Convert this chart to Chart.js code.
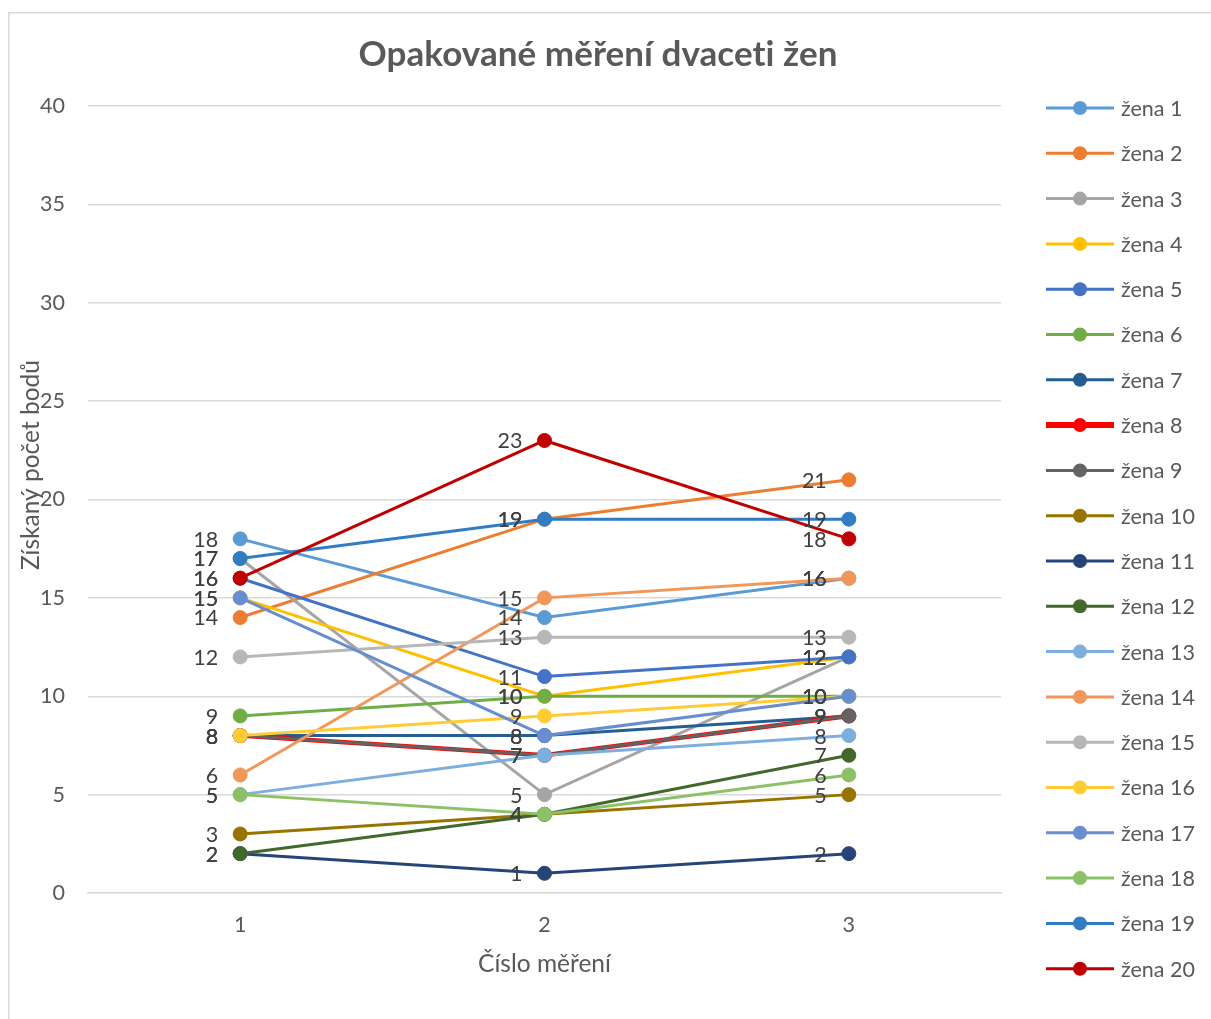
<!DOCTYPE html>
<html lang="cs">
<head>
<meta charset="utf-8">
<title>Opakované měření dvaceti žen</title>
<script src="https://cdn.jsdelivr.net/npm/chart.js@4/dist/chart.umd.min.js"></script>
<style>
  html, body { margin: 0; padding: 0; background: #ffffff; }
  #wrap { position: relative; width: 1211px; height: 1019px; }
</style>
</head>
<body>
<div id="wrap"><canvas id="chart" width="1211" height="1019"></canvas></div>
<script>
// Measurement rounds (x axis)
const categories = ['1', '2', '3'];

// Scores of each woman in rounds 1, 2, 3
const zena1  = [18, 14, 16];
const zena2  = [14, 19, 21];
const zena3  = [17, 5, 12];
const zena4  = [15, 10, 12];
const zena5  = [16, 11, 12];
const zena6  = [9, 10, 10];
const zena7  = [8, 8, 9];
const zena8  = [8, 7, 9];
const zena9  = [8, 7, 9];
const zena10 = [3, 4, 5];
const zena11 = [2, 1, 2];
const zena12 = [2, 4, 7];
const zena13 = [5, 7, 8];
const zena14 = [6, 15, 16];
const zena15 = [12, 13, 13];
const zena16 = [8, 9, 10];
const zena17 = [15, 8, 10];
const zena18 = [5, 4, 6];
const zena19 = [17, 19, 19];
const zena20 = [16, 23, 18];

const seriesNames = ['žena 1', 'žena 2', 'žena 3', 'žena 4', 'žena 5', 'žena 6', 'žena 7',
  'žena 8', 'žena 9', 'žena 10', 'žena 11', 'žena 12', 'žena 13', 'žena 14', 'žena 15',
  'žena 16', 'žena 17', 'žena 18', 'žena 19', 'žena 20'];
const seriesValues = [zena1, zena2, zena3, zena4, zena5, zena6, zena7, zena8, zena9, zena10,
  zena11, zena12, zena13, zena14, zena15, zena16, zena17, zena18, zena19, zena20];
const seriesColors = ['#5B9BD5', '#ED7D31', '#A5A5A5', '#FFC000', '#4472C4', '#70AD47', '#255E91',
  '#FF0000', '#636363', '#997300', '#264478', '#43682B', '#7CAFDD', '#F1975A', '#B7B7B7',
  '#FFCD33', '#698ED0', '#8CC168', '#327DC2', '#C00000'];

// Y axis ticks
const yMin = 0, yMax = 40, yStep = 5;

const FONT = 'Lato, "Open Sans", sans-serif';
const TEXT = '#595959';

const datasets = seriesNames.map((name, i) => ({
  label: name,
  data: seriesValues[i],
  borderColor: seriesColors[i],
  backgroundColor: seriesColors[i],
  pointBackgroundColor: seriesColors[i],
  pointBorderColor: seriesColors[i],
  borderWidth: i === 7 ? 4.5 : 3,
  pointRadius: 7,
  pointBorderWidth: 1,
  pointHoverRadius: 7,
  tension: 0,
  // later series are painted on top
  order: seriesNames.length - i
}));

// Outer frame, title and axis titles
const framePlugin = {
  id: 'frame',
  beforeDraw(chart) {
    const ctx = chart.ctx;
    ctx.save();
    ctx.fillStyle = '#ffffff';
    ctx.fillRect(0, 0, chart.width, chart.height);
    ctx.strokeStyle = '#d9d9d9';
    ctx.lineWidth = 1.5;
    ctx.strokeRect(8.75, 12.75, chart.width + 20, chart.height + 20);
    ctx.restore();
  },
  afterDraw(chart) {
    const ctx = chart.ctx;
    const area = chart.chartArea;
    ctx.save();
    ctx.fillStyle = TEXT;
    ctx.textAlign = 'center';
    ctx.textBaseline = 'middle';
    ctx.font = 'bold 35px ' + FONT;
    // a tiny letter spacing keeps "ti" from being drawn as a ligature
    if ('letterSpacing' in ctx) ctx.letterSpacing = '0.05px';
    ctx.fillText('Opakované měření dvaceti žen', 598, 55);
    if ('letterSpacing' in ctx) ctx.letterSpacing = '0px';
    ctx.font = '24.5px ' + FONT;
    ctx.fillText('Číslo měření', (area.left + area.right) / 2, 964);
    ctx.translate(31, 465);
    ctx.rotate(-Math.PI / 2);
    ctx.fillText('Získaný počet bodů', 0, 0);
    ctx.restore();
  }
};

// Value labels to the left of each point
const valueLabelPlugin = {
  id: 'valueLabels',
  afterDatasetsDraw(chart) {
    const ctx = chart.ctx;
    ctx.save();
    ctx.fillStyle = '#404040';
    ctx.font = '21.5px ' + FONT;
    ctx.textAlign = 'right';
    ctx.textBaseline = 'middle';
    chart.data.datasets.forEach((ds, di) => {
      const meta = chart.getDatasetMeta(di);
      meta.data.forEach((pt, j) => {
        ctx.fillText(String(ds.data[j]), pt.x - 22, pt.y + 1);
      });
    });
    ctx.restore();
  }
};

// Legend column on the right
const sideLegendPlugin = {
  id: 'sideLegend',
  afterDraw(chart) {
    const ctx = chart.ctx;
    ctx.save();
    chart.data.datasets.forEach((ds, i) => {
      const y = 108 + i * 45.3;
      ctx.strokeStyle = ds.borderColor;
      ctx.lineWidth = i === 7 ? 6 : 3;
      ctx.beginPath();
      ctx.moveTo(1046, y);
      ctx.lineTo(1114, y);
      ctx.stroke();
      ctx.fillStyle = ds.borderColor;
      ctx.beginPath();
      ctx.arc(1080, y, 7, 0, Math.PI * 2);
      ctx.fill();
      ctx.fillStyle = TEXT;
      ctx.font = '21.5px ' + FONT;
      ctx.textAlign = 'left';
      ctx.textBaseline = 'middle';
      ctx.fillText(ds.label, 1121, y + 1);
    });
    ctx.restore();
  }
};

new Chart(document.getElementById('chart'), {
  type: 'line',
  data: { labels: categories, datasets },
  plugins: [framePlugin, valueLabelPlugin, sideLegendPlugin],
  options: {
    responsive: false,
    animation: false,
    events: [],
    layout: { padding: { left: 0, top: 106, right: 210, bottom: 0 } },
    plugins: {
      legend: { display: false },
      title: { display: false },
      tooltip: { enabled: false }
    },
    scales: {
      x: {
        type: 'category',
        offset: true,
        grid: { display: false, drawTicks: false },
        border: { display: true, color: '#d9d9d9', width: 1.5 },
        ticks: { color: TEXT, font: { family: FONT, size: 21.5 }, padding: 19 },
        afterFit(scale) { scale.height = 1019 - 893; }
      },
      y: {
        min: yMin,
        max: yMax,
        grid: { color: '#d9d9d9', lineWidth: 1.5, drawTicks: false },
        border: { display: false },
        ticks: { stepSize: yStep, color: TEXT, font: { family: FONT, size: 21.5 }, padding: 23 },
        afterFit(scale) { scale.width = 88; }
      }
    }
  }
});
</script>
</body>
</html>
